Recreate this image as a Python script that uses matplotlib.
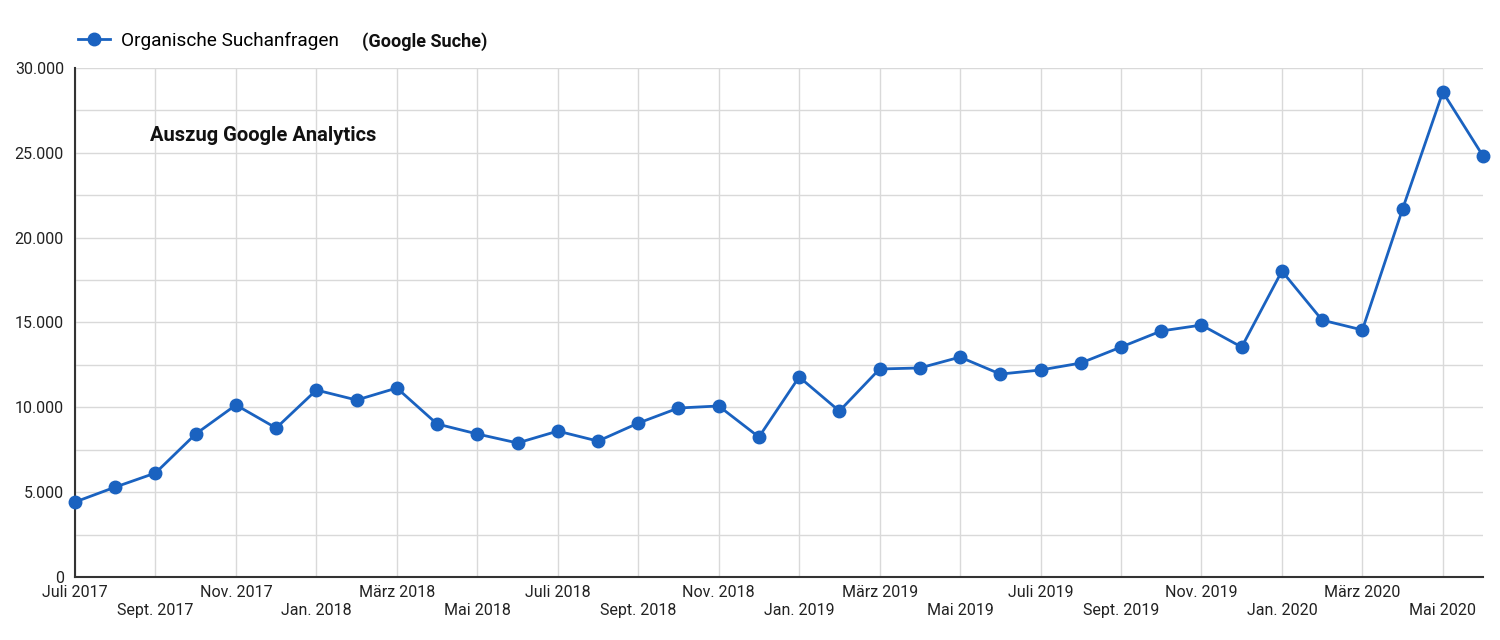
import numpy as np
import matplotlib.pyplot as plt
from matplotlib.ticker import FuncFormatter, MultipleLocator

plt.rcParams['font.family'] = ['Roboto', 'DejaVu Sans']

# Monatswerte Juli 2017 - Juni 2020
monate = ['Juli 2017', 'Aug. 2017', 'Sept. 2017', 'Okt. 2017', 'Nov. 2017', 'Dez. 2017',
          'Jan. 2018', 'Feb. 2018', 'März 2018', 'Apr. 2018', 'Mai 2018', 'Juni 2018',
          'Juli 2018', 'Aug. 2018', 'Sept. 2018', 'Okt. 2018', 'Nov. 2018', 'Dez. 2018',
          'Jan. 2019', 'Feb. 2019', 'März 2019', 'Apr. 2019', 'Mai 2019', 'Juni 2019',
          'Juli 2019', 'Aug. 2019', 'Sept. 2019', 'Okt. 2019', 'Nov. 2019', 'Dez. 2019',
          'Jan. 2020', 'Feb. 2020', 'März 2020', 'Apr. 2020', 'Mai 2020', 'Juni 2020']
suchanfragen = [4420, 5300, 6130, 8430, 10140, 8780,
                11020, 10430, 11140, 9020, 8430, 7900,
                8600, 8010, 9070, 9960, 10080, 8250,
                11790, 9780, 12260, 12320, 12960, 11960,
                12200, 12610, 13550, 14500, 14850, 13550,
                18030, 15140, 14560, 21690, 28580, 24810]

blau = '#1a62c0'
x = np.arange(len(monate))

fig = plt.figure(figsize=(15, 6.4), dpi=100)
ax = fig.add_axes([0.05, 0.0984, 0.9387, 0.7954])

ax.plot(x, suchanfragen, color=blau, lw=2.0, marker='o', ms=9,
        label='Organische Suchanfragen', zorder=3, clip_on=False)

ax.set_xlim(0, len(monate) - 1)
ax.set_ylim(0, 30000)
ax.yaxis.set_major_locator(MultipleLocator(5000))
ax.yaxis.set_minor_locator(MultipleLocator(2500))
ax.yaxis.set_major_formatter(FuncFormatter(lambda v, p: f'{int(v):,}'.replace(',', '.')))

ticks = x[::2]
labels = [('' if i % 2 == 0 else '\n') + monate[t] for i, t in enumerate(ticks)]
ax.set_xticks(ticks)
ax.set_xticklabels(labels, fontsize=11.5, linespacing=1.25)

ax.grid(True, which='both', color='#d9d9d9', lw=1)
ax.set_axisbelow(True)
ax.tick_params(axis='both', which='both', length=0, labelsize=11.5, colors='#222222')
ax.tick_params(axis='x', pad=6)
ax.tick_params(axis='y', pad=8)
for s in ['top', 'right']:
    ax.spines[s].set_visible(False)
for s in ['left', 'bottom']:
    ax.spines[s].set_color('#333333')
    ax.spines[s].set_linewidth(1.5)

fig.text(0.1, 0.789, 'Auszug Google Analytics', fontsize=14.5, fontweight='bold',
         va='center', color='#111111')

fig.legend(loc='center left', bbox_to_anchor=(78 / 1500, 1 - 41 / 640),
           frameon=False, fontsize=13.7, handlelength=1.7, handletextpad=0.58,
           borderpad=0, borderaxespad=0)
fig.text(362 / 1500, 1 - 42 / 640, '(Google Suche)', fontsize=13, fontweight='bold',
         va='center', color='#111111')

fig.savefig('out.png', dpi=100)
